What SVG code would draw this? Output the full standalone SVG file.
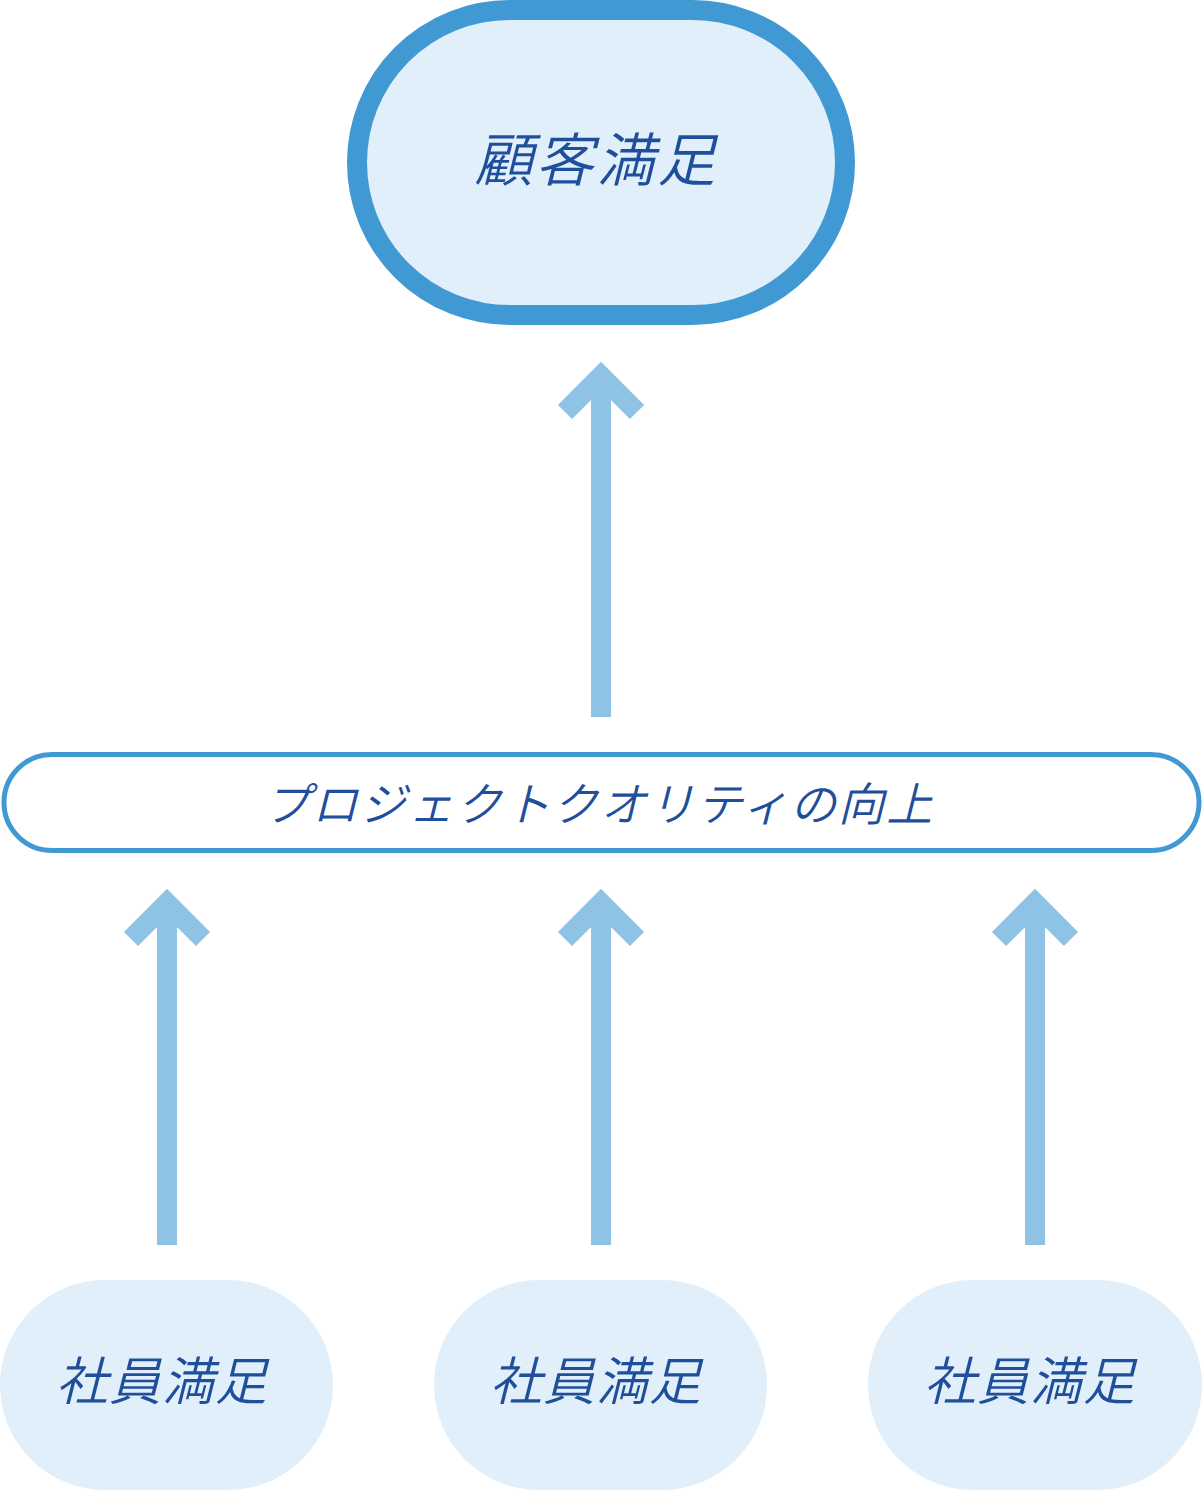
<svg xmlns="http://www.w3.org/2000/svg" width="1203" height="1490" viewBox="0 0 1203 1490">
<style>
.lbl{font-family:"Noto Sans CJK JP","Noto Sans CJK SC",sans-serif;font-style:italic;font-weight:350;fill:#1f4f9b;text-anchor:middle;dominant-baseline:central}
.soft{fill:#e0eff9}
.arr{fill:none;stroke:#8fc3e6;stroke-width:20;stroke-linejoin:miter;stroke-miterlimit:4}
</style>
<rect width="1203" height="1490" fill="#ffffff"/>
<g id="connectors">
<g id="arrow-top"><line class="arr" x1="601" y1="717" x2="601" y2="385"/><polyline class="arr" points="565,412 601,376 637,412"/></g>
<g id="arrow-left"><line class="arr" x1="167" y1="1245" x2="167" y2="912"/><polyline class="arr" points="131,939 167,903 203,939"/></g>
<g id="arrow-mid"><line class="arr" x1="601" y1="1245" x2="601" y2="912"/><polyline class="arr" points="565,939 601,903 637,939"/></g>
<g id="arrow-right"><line class="arr" x1="1035" y1="1245" x2="1035" y2="912"/><polyline class="arr" points="999,939 1035,903 1071,939"/></g>
</g>
<g id="node-customer">
<rect x="357" y="10" width="488" height="305" rx="152.5" ry="152.5" fill="#e0eff9" stroke="#4199d4" stroke-width="20"/>
<text class="lbl" x="596.5" y="156" font-size="58" letter-spacing="3">顧客満足</text>
</g>
<g id="node-quality">
<rect x="4" y="754.5" width="1195" height="96" rx="48" ry="48" fill="#ffffff" stroke="#4199d4" stroke-width="5"/>
<text class="lbl" x="599" y="801" font-size="46" letter-spacing="2.1">プロジェクトクオリティの向上</text>
</g>
<g id="node-emp1">
<rect class="soft" x="0" y="1280" width="333" height="210" rx="105" ry="105"/>
<text class="lbl" x="162" y="1377" font-size="52" letter-spacing="1">社員満足</text>
</g>
<g id="node-emp2">
<rect class="soft" x="434" y="1280" width="333" height="210" rx="105" ry="105"/>
<text class="lbl" x="596" y="1377" font-size="52" letter-spacing="1">社員満足</text>
</g>
<g id="node-emp3">
<rect class="soft" x="868" y="1280" width="334" height="210" rx="105" ry="105"/>
<text class="lbl" x="1030" y="1377" font-size="52" letter-spacing="1">社員満足</text>
</g>
</svg>
